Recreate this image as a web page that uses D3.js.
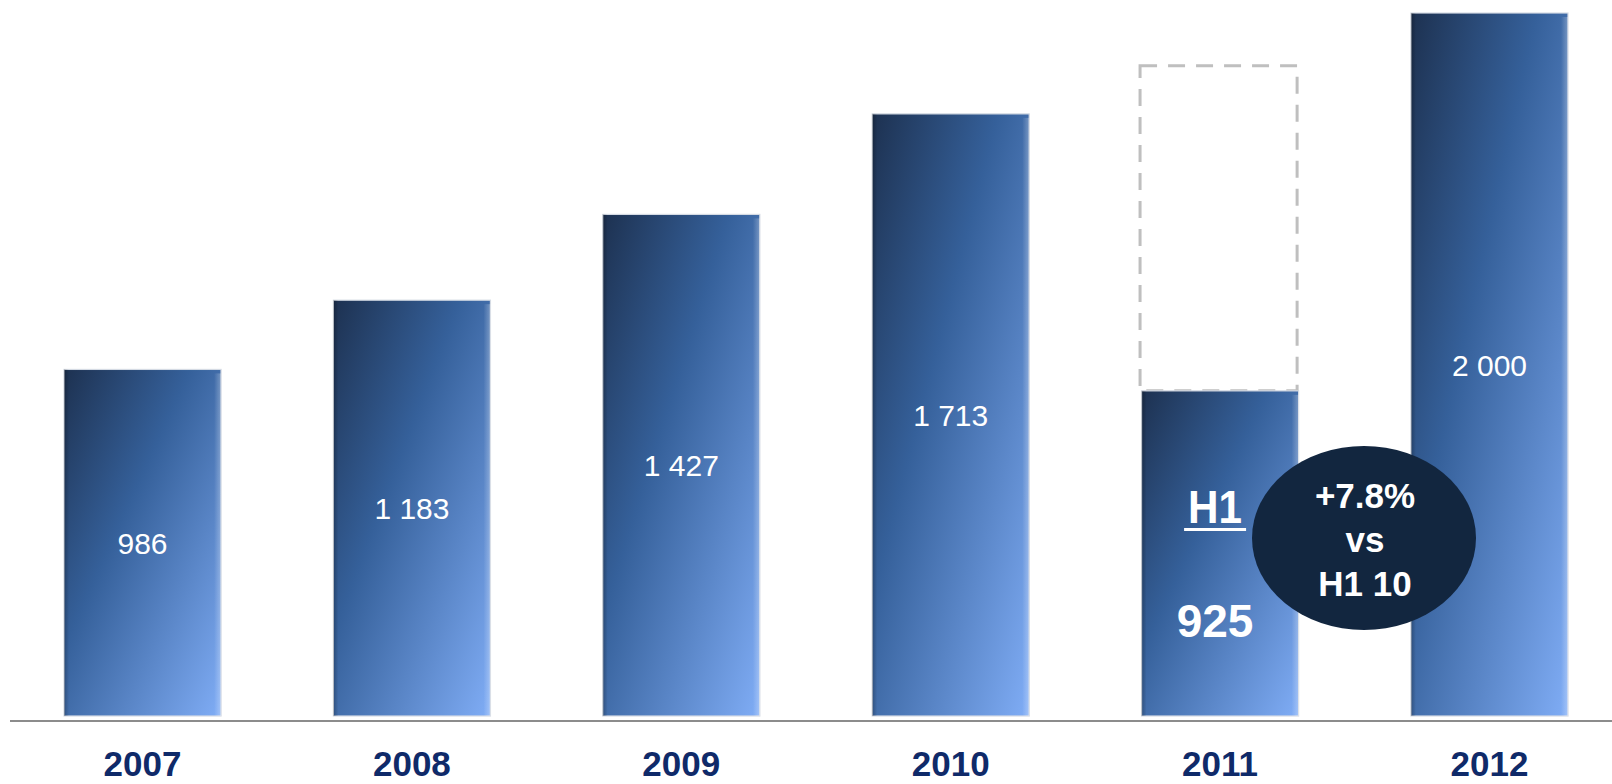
<!DOCTYPE html>
<html>
<head>
<meta charset="utf-8">
<script src="https://cdn.jsdelivr.net/npm/d3@7"></script>
<style>
  html, body { margin: 0; padding: 0; background: #fff; }
  svg { display: block; font-family: Arial, 'Liberation Sans', sans-serif; }
</style>
</head>
<body>
<svg id="chart" width="1612" height="784"></svg>
<script>
// values
const years = ['2007', '2008', '2009', '2010', '2011', '2012'];
const values = [986, 1183, 1427, 1713, 925, 2000];
const valueLabels = ['986', '1 183', '1 427', '1 713', '925', '2 000'];
const h1Year = '2011';
const fullYearGhost = 1850; // dashed outline above the H1 bar
const bubbleLines = ['+7.8%', 'vs', 'H1 10'];

const svg = d3.select('#chart');
const W = 1612;

const x = d3.scaleBand()
  .domain(years)
  .range([64, 1568])
  .paddingInner(0.417)
  .paddingOuter(0);

const y = d3.scaleLinear()
  .domain([0, 2000])
  .range([716, 13]);

const data = years.map((yr, i) => ({ year: yr, value: values[i], label: valueLabels[i] }));

// gradient for the bars
const defs = svg.append('defs');
const grad = defs.append('linearGradient')
  .attr('id', 'barGrad')
  .attr('x1', 0).attr('y1', 0)
  .attr('x2', 1).attr('y2', 1);
grad.append('stop').attr('offset', '0%').attr('stop-color', '#1d3150');
grad.append('stop').attr('offset', '40%').attr('stop-color', '#35609a');
grad.append('stop').attr('offset', '100%').attr('stop-color', '#80adf6');

const edgeR = defs.append('linearGradient')
  .attr('id', 'edgeR')
  .attr('x1', 0).attr('y1', 0).attr('x2', 1).attr('y2', 0);
edgeR.append('stop').attr('offset', '0%').attr('stop-color', '#fff').attr('stop-opacity', 0);
edgeR.append('stop').attr('offset', '100%').attr('stop-color', '#fff').attr('stop-opacity', 0.28);

const edgeL = defs.append('linearGradient')
  .attr('id', 'edgeL')
  .attr('x1', 0).attr('y1', 0).attr('x2', 1).attr('y2', 0);
edgeL.append('stop').attr('offset', '0%').attr('stop-color', '#000').attr('stop-opacity', 0.25);
edgeL.append('stop').attr('offset', '100%').attr('stop-color', '#000').attr('stop-opacity', 0);

const g = svg.append('g');

// dashed ghost box for full-year 2011
const ghost = data.find(d => d.year === h1Year);
g.append('rect')
  .attr('x', x(h1Year) - 1.5)
  .attr('y', y(fullYearGhost))
  .attr('width', x.bandwidth())
  .attr('height', y(ghost.value) - y(fullYearGhost))
  .attr('fill', 'none')
  .attr('stroke', '#bfbfbf')
  .attr('stroke-width', 3)
  .attr('stroke-dasharray', '17 11');

// bars
const bars = g.selectAll('.bar')
  .data(data)
  .join('g')
  .attr('class', 'bar');

bars.append('rect')
  .attr('x', d => x(d.year))
  .attr('y', d => y(d.value))
  .attr('width', x.bandwidth())
  .attr('height', d => y(0) - y(d.value))
  .attr('fill', 'url(#barGrad)')
  .attr('stroke', '#d5dbe4')
  .attr('stroke-width', 1.2);

bars.append('rect')
  .attr('x', d => x(d.year) + x.bandwidth() - 7)
  .attr('y', d => y(d.value) + 4)
  .attr('width', 7)
  .attr('height', d => y(0) - y(d.value) - 4)
  .attr('fill', 'url(#edgeR)');

bars.append('rect')
  .attr('x', d => x(d.year))
  .attr('y', d => y(d.value))
  .attr('width', 5)
  .attr('height', d => y(0) - y(d.value))
  .attr('fill', 'url(#edgeL)');

// value labels (all but H1 bar)
bars.filter(d => d.year !== h1Year)
  .append('text')
  .attr('x', d => x(d.year) + x.bandwidth() / 2)
  .attr('y', d => (y(d.value) + y(0)) / 2 + 11)
  .attr('text-anchor', 'middle')
  .attr('fill', '#fff')
  .attr('font-size', 30)
  .text(d => d.label);

// H1 bar labels
const hx = x(h1Year) + x.bandwidth() / 2 - 5;
g.append('text')
  .attr('x', hx)
  .attr('y', 523)
  .attr('text-anchor', 'middle')
  .attr('fill', '#fff')
  .attr('font-size', 46)
  .attr('font-weight', 'bold')
  .attr('textLength', 54)
  .attr('lengthAdjust', 'spacingAndGlyphs')
  .text('H1');
g.append('line')
  .attr('x1', hx - 31).attr('x2', hx + 31)
  .attr('y1', 529.5).attr('y2', 529.5)
  .attr('stroke', '#fff')
  .attr('stroke-width', 3);
g.append('text')
  .attr('x', hx)
  .attr('y', 637)
  .attr('text-anchor', 'middle')
  .attr('fill', '#fff')
  .attr('font-size', 46)
  .attr('font-weight', 'bold')
  .text(ghost.label);

// growth bubble
g.append('ellipse')
  .attr('cx', 1364)
  .attr('cy', 538)
  .attr('rx', 112)
  .attr('ry', 92)
  .attr('fill', '#12263f');

g.selectAll('.bubble-text')
  .data(bubbleLines)
  .join('text')
  .attr('class', 'bubble-text')
  .attr('x', 1365)
  .attr('y', (d, i) => 508 + i * 44)
  .attr('text-anchor', 'middle')
  .attr('fill', '#fff')
  .attr('font-size', 35)
  .attr('font-weight', 'bold')
  .text(d => d);

// baseline
g.append('line')
  .attr('x1', 10).attr('x2', W)
  .attr('y1', 721).attr('y2', 721)
  .attr('stroke', '#8c8c8c')
  .attr('stroke-width', 2);

// year axis labels
const axis = d3.axisBottom(x).tickSize(0).tickPadding(0);
const ax = g.append('g')
  .attr('transform', 'translate(0,776)')
  .call(axis);
ax.select('.domain').remove();
ax.selectAll('text')
  .attr('dy', 0)
  .attr('y', 0)
  .attr('fill', '#0f2a69')
  .attr('font-size', 35)
  .attr('font-weight', 'bold')
  .attr('font-family', "Arial, 'Liberation Sans', sans-serif");
</script>
</body>
</html>
